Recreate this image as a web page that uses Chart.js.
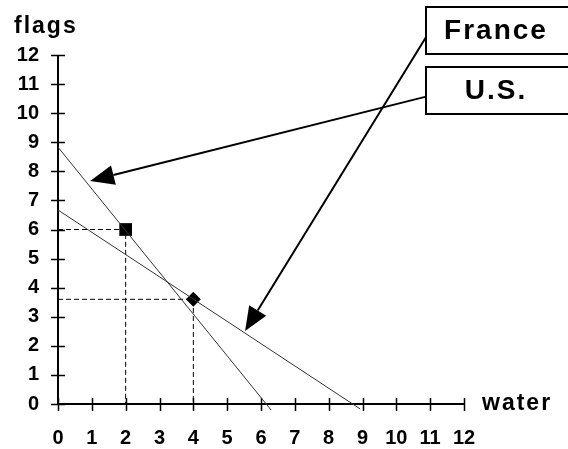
<!DOCTYPE html>
<html>
<head>
<meta charset="utf-8">
<script src="https://cdn.jsdelivr.net/npm/chart.js@4.4.1/dist/chart.umd.min.js"></script>
<style>
  html, body { margin: 0; padding: 0; background: #fff; }
</style>
</head>
<body>
<canvas id="chart" width="568" height="449"></canvas>
<script>
// axis ticks
const tickValues = [0, 1, 2, 3, 4, 5, 6, 7, 8, 9, 10, 11, 12];
const xTitle = "water";
const yTitle = "flags";

// production possibility lines (x = water, y = flags)
const usLineX = [0, 6.3];
const usLineY = [8.83, -0.21];
const franceLineX = [0, 8.93];
const franceLineY = [6.67, -0.17];

// chosen points
const usPoint = { x: 2, y: 6 };
const francePoint = { x: 4, y: 3.6 };

// labels with arrows (tail in data units, outside the plot on the right)
const arrowLabels = ["France", "U.S."];
const arrowFromX = [10.88, 10.85];
const arrowFromY = [12.62, 10.56];
const arrowToX = [5.53, 0.95];
const arrowToY = [2.51, 7.67];

const FONT = "'Liberation Sans', Arial, sans-serif";

function toPoints(xs, ys) {
  return xs.map((x, i) => ({ x, y: ys[i] }));
}
function guide(p) {
  return [{ x: 0, y: p.y }, { x: p.x, y: p.y }, { x: p.x, y: 0 }];
}

const lineStyle = {
  borderColor: "#333",
  borderWidth: 1,
  pointRadius: 0,
  showLine: true,
  clip: false,
};
const dashStyle = {
  borderColor: "#000",
  borderWidth: 1,
  borderDash: [5, 3],
  pointRadius: 0,
  showLine: true,
  clip: false,
};

const decorPlugin = {
  id: "decor",
  beforeDatasetsDraw(chart) {
    const { ctx, chartArea: a, scales: { x, y } } = chart;
    ctx.save();
    ctx.strokeStyle = "#000";
    ctx.lineWidth = 2;
    ctx.beginPath();
    ctx.moveTo(a.left, a.top);
    ctx.lineTo(a.left, a.bottom);
    ctx.lineTo(a.right, a.bottom);
    ctx.stroke();
    ctx.lineWidth = 1.5;
    ctx.beginPath();
    tickValues.forEach(v => {
      const py = Math.round(y.getPixelForValue(v)) + 0.5;
      ctx.moveTo(a.left - 7, py);
      ctx.lineTo(a.left + 7, py);
      const px = Math.round(x.getPixelForValue(v)) + 0.5;
      ctx.moveTo(px, a.bottom - 6);
      ctx.lineTo(px, a.bottom + 7);
    });
    ctx.stroke();
    ctx.restore();
  },
  afterDatasetsDraw(chart) {
    const { ctx, chartArea: a, scales: { x, y } } = chart;
    ctx.save();
    ctx.fillStyle = "#000";
    ctx.textBaseline = "alphabetic";
    ctx.letterSpacing = "2px";
    ctx.font = "bold 23px " + FONT;
    ctx.textAlign = "left";
    ctx.fillText(yTitle, 14, 33);
    ctx.fillText(xTitle, a.right + 18, a.bottom + 6);

    // label boxes
    const boxTop = [7, 67];
    ctx.lineWidth = 2;
    ctx.strokeStyle = "#000";
    ctx.font = "bold 28px " + FONT;
    ctx.textAlign = "center";
    ctx.textBaseline = "middle";
    arrowLabels.forEach((t, i) => {
      ctx.strokeRect(426, boxTop[i], 160, 47);
      ctx.fillText(t, 496, boxTop[i] + 24);
    });

    // arrows
    arrowLabels.forEach((t, i) => {
      const x0 = x.getPixelForValue(arrowFromX[i]);
      const y0 = y.getPixelForValue(arrowFromY[i]);
      const x1 = x.getPixelForValue(arrowToX[i]);
      const y1 = y.getPixelForValue(arrowToY[i]);
      const ang = Math.atan2(y1 - y0, x1 - x0);
      const len = 24, half = 10;
      const bx = x1 - Math.cos(ang) * len;
      const by = y1 - Math.sin(ang) * len;
      ctx.beginPath();
      ctx.moveTo(x0, y0);
      ctx.lineTo(bx, by);
      ctx.lineWidth = 2;
      ctx.stroke();
      ctx.beginPath();
      ctx.moveTo(x1, y1);
      ctx.lineTo(bx + Math.sin(ang) * half, by - Math.cos(ang) * half);
      ctx.lineTo(bx - Math.sin(ang) * half, by + Math.cos(ang) * half);
      ctx.closePath();
      ctx.fill();
    });
    ctx.restore();
  },
};

new Chart(document.getElementById("chart"), {
  type: "scatter",
  data: {
    datasets: [
      Object.assign({ label: "U.S.", data: toPoints(usLineX, usLineY) }, lineStyle),
      Object.assign({ label: "France", data: toPoints(franceLineX, franceLineY) }, lineStyle),
      Object.assign({ label: "U.S. guide", data: guide(usPoint) }, dashStyle),
      Object.assign({ label: "France guide", data: guide(francePoint) }, dashStyle),
      {
        label: "U.S. point",
        data: [usPoint],
        pointStyle: "rect",
        pointRadius: 9,
        backgroundColor: "#000",
        borderColor: "#000",
        borderWidth: 0,
      },
      {
        label: "France point",
        data: [francePoint],
        pointStyle: "rectRot",
        pointRadius: 7.5,
        backgroundColor: "#000",
        borderColor: "#000",
        borderWidth: 0,
      },
    ],
  },
  options: {
    responsive: false,
    animation: false,
    events: [],
    layout: { padding: { left: 0, right: 104, top: 55, bottom: 0 } },
    plugins: { legend: { display: false }, tooltip: { enabled: false } },
    scales: {
      x: {
        type: "linear",
        min: 0,
        max: 12,
        grid: { display: false, drawTicks: false },
        border: { display: false },
        ticks: {
          stepSize: 1,
          padding: 22,
          color: "#000",
          font: { family: FONT, size: 20, weight: "bold" },
          maxRotation: 0,
          autoSkip: false,
        },
        afterFit(s) {
          s.height = 45;
          s.paddingLeft = 0;
          s.paddingRight = 0;
        },
      },
      y: {
        type: "linear",
        min: 0,
        max: 12,
        grid: { display: false, drawTicks: false },
        border: { display: false },
        ticks: {
          stepSize: 1,
          padding: 19,
          color: "#000",
          font: { family: FONT, size: 20, weight: "bold" },
          autoSkip: false,
        },
        afterFit(s) {
          s.width = 58;
          s.paddingTop = 0;
          s.paddingBottom = 0;
        },
      },
    },
  },
  plugins: [decorPlugin],
});
</script>
</body>
</html>
